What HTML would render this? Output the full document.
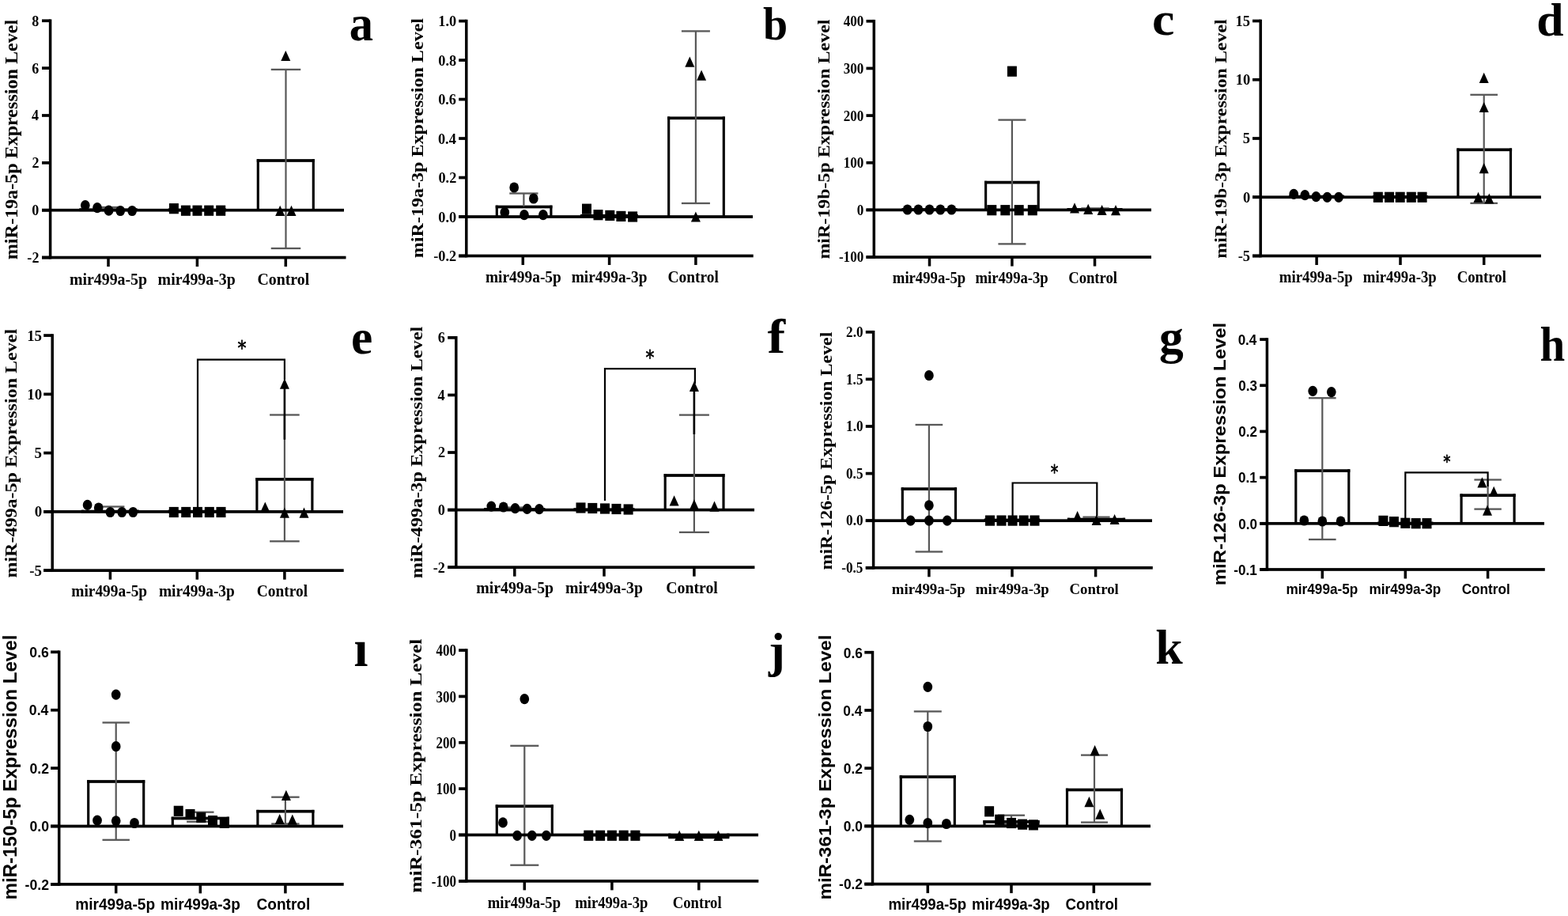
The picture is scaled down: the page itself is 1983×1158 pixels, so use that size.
<!DOCTYPE html>
<html><head><meta charset="utf-8"><title>miRNA expression levels</title>
<style>
html,body{margin:0;padding:0;background:#fff;}
body{width:1983px;height:1158px;overflow:hidden;}
svg{display:block;}
</style></head>
<body>
<svg width="1983" height="1158" viewBox="0 0 1983 1158">
<rect width="1983" height="1158" fill="#fff"/>
<g>
<rect x="102" y="265.3" width="70" height="0.4" fill="#fff"/>
<rect x="100.42" y="263.45" width="3.15" height="2.25" fill="#000"/>
<rect x="170.43" y="263.45" width="3.15" height="2.25" fill="#000"/>
<rect x="100.42" y="263.45" width="73.15" height="3.7" fill="#000"/>
<rect x="214.4" y="265.5" width="70" height="0.2" fill="#fff"/>
<rect x="212.83" y="263.65" width="3.15" height="2.05" fill="#000"/>
<rect x="282.82" y="263.65" width="3.15" height="2.05" fill="#000"/>
<rect x="212.83" y="263.65" width="73.15" height="3.7" fill="#000"/>
<rect x="326.3" y="203" width="70" height="62.7" fill="#fff"/>
<rect x="324.73" y="201.15" width="3.15" height="64.55" fill="#000"/>
<rect x="394.73" y="201.15" width="3.15" height="64.55" fill="#000"/>
<rect x="324.73" y="201.15" width="73.15" height="3.7" fill="#000"/>
<rect x="360.4" y="87.9" width="2.2" height="226.1" fill="#585858"/>
<rect x="342.75" y="86.75" width="37.5" height="2.3" fill="#585858"/>
<rect x="342.75" y="312.85" width="37.5" height="2.3" fill="#585858"/>
<rect x="135.9" y="262" width="2.2" height="2" fill="#585858"/>
<rect x="119" y="260.85" width="36" height="2.3" fill="#585858"/>
<rect x="53" y="263.85" width="382" height="3.7" fill="#000"/>
<rect x="61.85" y="24.41" width="3.5" height="303" fill="#000"/>
<rect x="53" y="24.41" width="10.6" height="3.7" fill="#000"/>
<text transform="translate(40.26 32.68) scale(0.95 1)" font-family='"Liberation Serif", "Times New Roman", serif' font-weight="700" font-size="19" text-anchor="start">8</text>
<rect x="53" y="84.27" width="10.6" height="3.7" fill="#000"/>
<text transform="translate(40.17 92.5) scale(0.95 1)" font-family='"Liberation Serif", "Times New Roman", serif' font-weight="700" font-size="19" text-anchor="start">6</text>
<rect x="53" y="144.13" width="10.6" height="3.7" fill="#000"/>
<text transform="translate(39.99 152.45) scale(0.95 1)" font-family='"Liberation Serif", "Times New Roman", serif' font-weight="700" font-size="19" text-anchor="start">4</text>
<rect x="53" y="203.99" width="10.6" height="3.7" fill="#000"/>
<text transform="translate(40.44 212.31) scale(0.95 1)" font-family='"Liberation Serif", "Times New Roman", serif' font-weight="700" font-size="19" text-anchor="start">2</text>
<rect x="53" y="263.85" width="10.6" height="3.7" fill="#000"/>
<text transform="translate(40.35 272.12) scale(0.95 1)" font-family='"Liberation Serif", "Times New Roman", serif' font-weight="700" font-size="19" text-anchor="start">0</text>
<rect x="53" y="323.71" width="10.6" height="3.7" fill="#000"/>
<text transform="translate(34.37 332.03) scale(0.95 1)" font-family='"Liberation Serif", "Times New Roman", serif' font-weight="700" font-size="19" text-anchor="start">-2</text>
<rect x="53" y="323.71" width="384.5" height="3.7" fill="#000"/>
<rect x="135.25" y="325.56" width="3.5" height="11.5" fill="#000"/>
<rect x="247.65" y="325.56" width="3.5" height="11.5" fill="#000"/>
<rect x="359.55" y="325.56" width="3.5" height="11.5" fill="#000"/>
<text transform="translate(137 359.6) scale(0.96 1)" font-family='"Liberation Serif", "Times New Roman", serif' font-weight="700" font-size="20.7" text-anchor="middle">mir499a-5p</text>
<text transform="translate(248.7 359.6) scale(0.96 1)" font-family='"Liberation Serif", "Times New Roman", serif' font-weight="700" font-size="20.7" text-anchor="middle">mir499a-3p</text>
<text transform="translate(358.3 359.6) scale(0.96 1)" font-family='"Liberation Serif", "Times New Roman", serif' font-weight="700" font-size="20.7" text-anchor="middle">Control</text>
<ellipse cx="107.8" cy="259.6" rx="5.85" ry="6.6"/>
<ellipse cx="123" cy="262.6" rx="5.85" ry="6.6"/>
<ellipse cx="137.5" cy="266.2" rx="5.85" ry="6.6"/>
<ellipse cx="152.2" cy="266.5" rx="5.85" ry="6.6"/>
<ellipse cx="167.1" cy="266.5" rx="5.85" ry="6.6"/>
<rect x="213.9" y="257.1" width="12" height="13.2"/>
<rect x="228.9" y="259.6" width="12" height="13.2"/>
<rect x="243.5" y="259.6" width="12" height="13.2"/>
<rect x="258.2" y="259.6" width="12" height="13.2"/>
<rect x="273.2" y="259.6" width="12" height="13.2"/>
<path d="M361.3 63.9L367.3 77.1L355.3 77.1Z"/>
<path d="M354.2 259.8L360.2 273L348.2 273Z"/>
<path d="M368.5 259.8L374.5 273L362.5 273Z"/>
<text transform="translate(22.1 328.2) rotate(-90) scale(1 0.92)" font-family='"Liberation Serif", "Times New Roman", serif' font-weight="700" font-size="24.1">miR-19a-5p Expression Level</text>
<text transform="translate(441.69 50.66) scale(0.95 1)" font-family='"Liberation Serif", "Times New Roman", serif' font-weight="700" font-size="63.75">a</text>
</g>
<g>
<rect x="628.3" y="261.5" width="68.6" height="12.5" fill="#fff"/>
<rect x="626.73" y="259.65" width="3.15" height="14.35" fill="#000"/>
<rect x="695.32" y="259.65" width="3.15" height="14.35" fill="#000"/>
<rect x="626.73" y="259.65" width="71.75" height="3.7" fill="#000"/>
<rect x="735.8" y="272.8" width="69.6" height="1.2" fill="#fff"/>
<rect x="734.23" y="270.95" width="3.15" height="3.05" fill="#000"/>
<rect x="803.82" y="270.95" width="3.15" height="3.05" fill="#000"/>
<rect x="734.23" y="270.95" width="72.75" height="3.7" fill="#000"/>
<rect x="845.7" y="149.3" width="69.6" height="124.7" fill="#fff"/>
<rect x="844.12" y="147.45" width="3.15" height="126.55" fill="#000"/>
<rect x="913.72" y="147.45" width="3.15" height="126.55" fill="#000"/>
<rect x="844.12" y="147.45" width="72.75" height="3.7" fill="#000"/>
<rect x="661.3" y="244.5" width="2.2" height="16.5" fill="#585858"/>
<rect x="644.3" y="243.35" width="36.2" height="2.3" fill="#585858"/>
<rect x="878.8" y="39.4" width="2.2" height="217.6" fill="#585858"/>
<rect x="861.9" y="38.25" width="36" height="2.3" fill="#585858"/>
<rect x="861.9" y="255.85" width="36" height="2.3" fill="#585858"/>
<rect x="580.2" y="272.15" width="371.8" height="3.7" fill="#000"/>
<rect x="588.05" y="24.75" width="3.5" height="300.58" fill="#000"/>
<rect x="580.2" y="24.75" width="9.6" height="3.7" fill="#000"/>
<text transform="translate(554.32 33.14) scale(0.94 1)" font-family='"Liberation Serif", "Times New Roman", serif' font-weight="700" font-size="19.5" text-anchor="start">1.0</text>
<rect x="580.2" y="74.23" width="9.6" height="3.7" fill="#000"/>
<text transform="translate(554.23 82.62) scale(0.94 1)" font-family='"Liberation Serif", "Times New Roman", serif' font-weight="700" font-size="19.5" text-anchor="start">0.8</text>
<rect x="580.2" y="123.71" width="9.6" height="3.7" fill="#000"/>
<text transform="translate(554.14 132.1) scale(0.94 1)" font-family='"Liberation Serif", "Times New Roman", serif' font-weight="700" font-size="19.5" text-anchor="start">0.6</text>
<rect x="580.2" y="173.19" width="9.6" height="3.7" fill="#000"/>
<text transform="translate(553.95 181.58) scale(0.94 1)" font-family='"Liberation Serif", "Times New Roman", serif' font-weight="700" font-size="19.5" text-anchor="start">0.4</text>
<rect x="580.2" y="222.67" width="9.6" height="3.7" fill="#000"/>
<text transform="translate(554.41 231.06) scale(0.94 1)" font-family='"Liberation Serif", "Times New Roman", serif' font-weight="700" font-size="19.5" text-anchor="start">0.2</text>
<rect x="580.2" y="272.15" width="9.6" height="3.7" fill="#000"/>
<text transform="translate(554.32 280.54) scale(0.94 1)" font-family='"Liberation Serif", "Times New Roman", serif' font-weight="700" font-size="19.5" text-anchor="start">0.0</text>
<rect x="580.2" y="321.63" width="9.6" height="3.7" fill="#000"/>
<text transform="translate(548.27 330.02) scale(0.94 1)" font-family='"Liberation Serif", "Times New Roman", serif' font-weight="700" font-size="19.5" text-anchor="start">-0.2</text>
<rect x="580.2" y="321.63" width="372.5" height="3.7" fill="#000"/>
<rect x="659.55" y="323.48" width="3.5" height="11.5" fill="#000"/>
<rect x="768.85" y="323.48" width="3.5" height="11.5" fill="#000"/>
<rect x="878.15" y="323.48" width="3.5" height="11.5" fill="#000"/>
<text transform="translate(661.9 356.8) scale(0.97 1)" font-family='"Liberation Serif", "Times New Roman", serif' font-weight="700" font-size="20" text-anchor="middle">mir499a-5p</text>
<text transform="translate(770.6 356.8) scale(0.97 1)" font-family='"Liberation Serif", "Times New Roman", serif' font-weight="700" font-size="20" text-anchor="middle">mir499a-3p</text>
<text transform="translate(876.7 356.8) scale(0.97 1)" font-family='"Liberation Serif", "Times New Roman", serif' font-weight="700" font-size="20" text-anchor="middle">Control</text>
<ellipse cx="650.2" cy="237" rx="5.85" ry="6.6"/>
<ellipse cx="674.8" cy="251" rx="5.85" ry="6.6"/>
<ellipse cx="638.3" cy="268.5" rx="5.85" ry="6.6"/>
<ellipse cx="663" cy="271.7" rx="5.85" ry="6.6"/>
<ellipse cx="686.9" cy="271.7" rx="5.85" ry="6.6"/>
<rect x="736" y="257.6" width="12" height="13.2"/>
<rect x="750.5" y="265.1" width="12" height="13.2"/>
<rect x="765.3" y="265.8" width="12" height="13.2"/>
<rect x="779.4" y="266.8" width="12" height="13.2"/>
<rect x="794.1" y="267.4" width="12" height="13.2"/>
<path d="M872.3 71.5L878.3 84.7L866.3 84.7Z"/>
<path d="M887.1 88.6L893.1 101.8L881.1 101.8Z"/>
<path d="M879.9 267.4L885.9 280.6L873.9 280.6Z"/>
<text transform="translate(535 326.3) rotate(-90) scale(1 0.87)" font-family='"Liberation Serif", "Times New Roman", serif' font-weight="700" font-size="24.1">miR-19a-3p Expression Level</text>
<text transform="translate(965.06 50.32) scale(0.96 1)" font-family='"Liberation Serif", "Times New Roman", serif' font-weight="700" font-size="58.3">b</text>
</g>
<g>
<rect x="1142.2" y="265" width="66.6" height="0.4" fill="#fff"/>
<rect x="1140.62" y="263.15" width="3.15" height="2.25" fill="#000"/>
<rect x="1207.22" y="263.15" width="3.15" height="2.25" fill="#000"/>
<rect x="1140.62" y="263.15" width="69.75" height="3.7" fill="#000"/>
<rect x="1246.6" y="230.6" width="66.6" height="34.8" fill="#fff"/>
<rect x="1245.03" y="228.75" width="3.15" height="36.65" fill="#000"/>
<rect x="1311.62" y="228.75" width="3.15" height="36.65" fill="#000"/>
<rect x="1245.03" y="228.75" width="69.75" height="3.7" fill="#000"/>
<rect x="1351.2" y="265" width="66.6" height="0.4" fill="#fff"/>
<rect x="1349.62" y="263.15" width="3.15" height="2.25" fill="#000"/>
<rect x="1416.22" y="263.15" width="3.15" height="2.25" fill="#000"/>
<rect x="1349.62" y="263.15" width="69.75" height="3.7" fill="#000"/>
<rect x="1278.8" y="151.6" width="2.2" height="156.8" fill="#585858"/>
<rect x="1262.4" y="150.45" width="35" height="2.3" fill="#585858"/>
<rect x="1262.4" y="307.25" width="35" height="2.3" fill="#585858"/>
<rect x="1383.9" y="263.4" width="2.2" height="1.6" fill="#585858"/>
<rect x="1367.3" y="262.25" width="35.4" height="2.3" fill="#585858"/>
<rect x="1095.5" y="263.55" width="360.5" height="3.7" fill="#000"/>
<rect x="1103.55" y="24.91" width="3.5" height="302" fill="#000"/>
<rect x="1095.5" y="24.91" width="9.8" height="3.7" fill="#000"/>
<text transform="translate(1066.63 33.18) scale(0.9 1)" font-family='"Liberation Serif", "Times New Roman", serif' font-weight="700" font-size="19" text-anchor="start">400</text>
<rect x="1095.5" y="84.57" width="9.8" height="3.7" fill="#000"/>
<text transform="translate(1066.63 92.84) scale(0.9 1)" font-family='"Liberation Serif", "Times New Roman", serif' font-weight="700" font-size="19" text-anchor="start">300</text>
<rect x="1095.5" y="144.23" width="9.8" height="3.7" fill="#000"/>
<text transform="translate(1066.63 152.5) scale(0.9 1)" font-family='"Liberation Serif", "Times New Roman", serif' font-weight="700" font-size="19" text-anchor="start">200</text>
<rect x="1095.5" y="203.89" width="9.8" height="3.7" fill="#000"/>
<text transform="translate(1066.63 212.16) scale(0.9 1)" font-family='"Liberation Serif", "Times New Roman", serif' font-weight="700" font-size="19" text-anchor="start">100</text>
<rect x="1095.5" y="263.55" width="9.8" height="3.7" fill="#000"/>
<text transform="translate(1083.73 271.82) scale(0.9 1)" font-family='"Liberation Serif", "Times New Roman", serif' font-weight="700" font-size="19" text-anchor="start">0</text>
<rect x="1095.5" y="323.21" width="9.8" height="3.7" fill="#000"/>
<text transform="translate(1060.91 331.48) scale(0.9 1)" font-family='"Liberation Serif", "Times New Roman", serif' font-weight="700" font-size="19" text-anchor="start">-100</text>
<rect x="1095.5" y="323.21" width="360.5" height="3.7" fill="#000"/>
<rect x="1173.75" y="325.06" width="3.5" height="11.5" fill="#000"/>
<rect x="1278.15" y="325.06" width="3.5" height="11.5" fill="#000"/>
<rect x="1382.75" y="325.06" width="3.5" height="11.5" fill="#000"/>
<text transform="translate(1175 358) scale(0.93 1)" font-family='"Liberation Serif", "Times New Roman", serif' font-weight="700" font-size="20.1" text-anchor="middle">mir499a-5p</text>
<text transform="translate(1279.6 358) scale(0.93 1)" font-family='"Liberation Serif", "Times New Roman", serif' font-weight="700" font-size="20.1" text-anchor="middle">mir499a-3p</text>
<text transform="translate(1382.1 358) scale(0.93 1)" font-family='"Liberation Serif", "Times New Roman", serif' font-weight="700" font-size="20.1" text-anchor="middle">Control</text>
<ellipse cx="1147.6" cy="265" rx="5.85" ry="6.6"/>
<ellipse cx="1161.4" cy="265" rx="5.85" ry="6.6"/>
<ellipse cx="1175.5" cy="265" rx="5.85" ry="6.6"/>
<ellipse cx="1189.3" cy="265" rx="5.85" ry="6.6"/>
<ellipse cx="1203.4" cy="265" rx="5.85" ry="6.6"/>
<rect x="1273.9" y="83.6" width="12" height="13.2"/>
<rect x="1248.3" y="259.1" width="12" height="13.2"/>
<rect x="1265.3" y="259.1" width="12" height="13.2"/>
<rect x="1282.7" y="259.1" width="12" height="13.2"/>
<rect x="1299.8" y="259.1" width="12" height="13.2"/>
<path d="M1359 256.2L1365 269.4L1353 269.4Z"/>
<path d="M1376.2 257.7L1382.2 270.9L1370.2 270.9Z"/>
<path d="M1393.6 258.9L1399.6 272.1L1387.6 272.1Z"/>
<path d="M1411 259.1L1417 272.3L1405 272.3Z"/>
<text transform="translate(1048.9 327.6) rotate(-90) scale(1 0.86)" font-family='"Liberation Serif", "Times New Roman", serif' font-weight="700" font-size="23.97">miR-19b-5p Expression Level</text>
<text transform="translate(1457.05 43.72) scale(1.1 1)" font-family='"Liberation Serif", "Times New Roman", serif' font-weight="700" font-size="58.12">c</text>
</g>
<g>
<rect x="1631.8" y="248.6" width="66.6" height="0.65" fill="#fff"/>
<rect x="1630.22" y="246.75" width="3.15" height="2.5" fill="#000"/>
<rect x="1696.82" y="246.75" width="3.15" height="2.5" fill="#000"/>
<rect x="1630.22" y="246.75" width="69.75" height="3.7" fill="#000"/>
<rect x="1737.7" y="248.9" width="66.6" height="0.35" fill="#fff"/>
<rect x="1736.12" y="247.05" width="3.15" height="2.2" fill="#000"/>
<rect x="1802.72" y="247.05" width="3.15" height="2.2" fill="#000"/>
<rect x="1736.12" y="247.05" width="69.75" height="3.7" fill="#000"/>
<rect x="1843.9" y="189.3" width="66.6" height="59.95" fill="#fff"/>
<rect x="1842.33" y="187.45" width="3.15" height="61.8" fill="#000"/>
<rect x="1908.92" y="187.45" width="3.15" height="61.8" fill="#000"/>
<rect x="1842.33" y="187.45" width="69.75" height="3.7" fill="#000"/>
<rect x="1875.6" y="119.8" width="2.2" height="137.1" fill="#585858"/>
<rect x="1859.4" y="118.65" width="34.6" height="2.3" fill="#585858"/>
<rect x="1859.4" y="255.75" width="34.6" height="2.3" fill="#585858"/>
<rect x="1584" y="247.4" width="364.9" height="3.7" fill="#000"/>
<rect x="1592.45" y="24.65" width="3.5" height="300.7" fill="#000"/>
<rect x="1584" y="24.65" width="10.2" height="3.7" fill="#000"/>
<text transform="translate(1562.62 33) scale(0.95 1)" font-family='"Liberation Serif", "Times New Roman", serif' font-weight="700" font-size="19.4" text-anchor="start">15</text>
<rect x="1584" y="98.9" width="10.2" height="3.7" fill="#000"/>
<text transform="translate(1562.71 107.3) scale(0.95 1)" font-family='"Liberation Serif", "Times New Roman", serif' font-weight="700" font-size="19.4" text-anchor="start">10</text>
<rect x="1584" y="173.15" width="10.2" height="3.7" fill="#000"/>
<text transform="translate(1571.83 181.46) scale(0.95 1)" font-family='"Liberation Serif", "Times New Roman", serif' font-weight="700" font-size="19.4" text-anchor="start">5</text>
<rect x="1584" y="247.4" width="10.2" height="3.7" fill="#000"/>
<text transform="translate(1571.92 255.8) scale(0.95 1)" font-family='"Liberation Serif", "Times New Roman", serif' font-weight="700" font-size="19.4" text-anchor="start">0</text>
<rect x="1584" y="321.65" width="10.2" height="3.7" fill="#000"/>
<text transform="translate(1565.66 329.96) scale(0.95 1)" font-family='"Liberation Serif", "Times New Roman", serif' font-weight="700" font-size="19.4" text-anchor="start">-5</text>
<rect x="1584" y="321.65" width="364.9" height="3.7" fill="#000"/>
<rect x="1663.35" y="323.5" width="3.5" height="11.5" fill="#000"/>
<rect x="1769.25" y="323.5" width="3.5" height="11.5" fill="#000"/>
<rect x="1874.95" y="323.5" width="3.5" height="11.5" fill="#000"/>
<text transform="translate(1664.3 356.6) scale(0.94 1)" font-family='"Liberation Serif", "Times New Roman", serif' font-weight="700" font-size="20" text-anchor="middle">mir499a-5p</text>
<text transform="translate(1770.3 356.6) scale(0.94 1)" font-family='"Liberation Serif", "Times New Roman", serif' font-weight="700" font-size="20" text-anchor="middle">mir499a-3p</text>
<text transform="translate(1873.8 356.6) scale(0.94 1)" font-family='"Liberation Serif", "Times New Roman", serif' font-weight="700" font-size="20" text-anchor="middle">Control</text>
<ellipse cx="1636.2" cy="245.4" rx="5.85" ry="6.6"/>
<ellipse cx="1650.3" cy="246.7" rx="5.85" ry="6.6"/>
<ellipse cx="1664.4" cy="248.7" rx="5.85" ry="6.6"/>
<ellipse cx="1678.5" cy="249.3" rx="5.85" ry="6.6"/>
<ellipse cx="1693" cy="249.3" rx="5.85" ry="6.6"/>
<rect x="1736.8" y="242.7" width="12" height="13.2"/>
<rect x="1751" y="242.7" width="12" height="13.2"/>
<rect x="1764.7" y="242.7" width="12" height="13.2"/>
<rect x="1778.8" y="242.7" width="12" height="13.2"/>
<rect x="1792.6" y="242.7" width="12" height="13.2"/>
<path d="M1876.7 91.8L1882.7 105L1870.7 105Z"/>
<path d="M1876.7 128.9L1882.7 142.1L1870.7 142.1Z"/>
<path d="M1876.7 206L1882.7 219.2L1870.7 219.2Z"/>
<path d="M1869.5 242.7L1875.5 255.9L1863.5 255.9Z"/>
<path d="M1883.3 244.4L1889.3 257.6L1877.3 257.6Z"/>
<text transform="translate(1551.3 326.7) rotate(-90) scale(1 0.89)" font-family='"Liberation Serif", "Times New Roman", serif' font-weight="700" font-size="23.91">miR-19b-3p Expression Level</text>
<text transform="translate(1943.13 45.32) scale(1.06 1)" font-family='"Liberation Serif", "Times New Roman", serif' font-weight="700" font-size="58.16">d</text>
</g>
<g>
<rect x="104.4" y="646.6" width="70" height="0.3" fill="#fff"/>
<rect x="102.83" y="644.75" width="3.15" height="2.15" fill="#000"/>
<rect x="172.83" y="644.75" width="3.15" height="2.15" fill="#000"/>
<rect x="102.83" y="644.75" width="73.15" height="3.7" fill="#000"/>
<rect x="214.3" y="646.6" width="70" height="0.3" fill="#fff"/>
<rect x="212.73" y="644.75" width="3.15" height="2.15" fill="#000"/>
<rect x="282.73" y="644.75" width="3.15" height="2.15" fill="#000"/>
<rect x="212.73" y="644.75" width="73.15" height="3.7" fill="#000"/>
<rect x="324.9" y="605.9" width="70" height="41" fill="#fff"/>
<rect x="323.32" y="604.05" width="3.15" height="42.85" fill="#000"/>
<rect x="393.32" y="604.05" width="3.15" height="42.85" fill="#000"/>
<rect x="323.32" y="604.05" width="73.15" height="3.7" fill="#000"/>
<rect x="358.8" y="524.5" width="2.2" height="159.8" fill="#585858"/>
<rect x="341.1" y="523.35" width="37.6" height="2.3" fill="#585858"/>
<rect x="341.1" y="683.15" width="37.6" height="2.3" fill="#585858"/>
<rect x="138.3" y="640.5" width="2.2" height="4.5" fill="#585858"/>
<rect x="121.4" y="639.35" width="36" height="2.3" fill="#585858"/>
<rect x="358.6" y="485" width="2.6" height="70.7" fill="#000"/>
<rect x="55.2" y="645.05" width="378.8" height="3.7" fill="#000"/>
<rect x="64.45" y="422.22" width="3.5" height="300.8" fill="#000"/>
<rect x="55.2" y="422.22" width="11" height="3.7" fill="#000"/>
<text transform="translate(34.15 430.55) scale(0.98 1)" font-family='"Liberation Serif", "Times New Roman", serif' font-weight="700" font-size="19.3" text-anchor="start">15</text>
<rect x="55.2" y="496.5" width="11" height="3.7" fill="#000"/>
<text transform="translate(34.24 504.87) scale(0.98 1)" font-family='"Liberation Serif", "Times New Roman", serif' font-weight="700" font-size="19.3" text-anchor="start">10</text>
<rect x="55.2" y="570.77" width="11" height="3.7" fill="#000"/>
<text transform="translate(43.6 579.05) scale(0.98 1)" font-family='"Liberation Serif", "Times New Roman", serif' font-weight="700" font-size="19.3" text-anchor="start">5</text>
<rect x="55.2" y="645.05" width="11" height="3.7" fill="#000"/>
<text transform="translate(43.7 653.42) scale(0.98 1)" font-family='"Liberation Serif", "Times New Roman", serif' font-weight="700" font-size="19.3" text-anchor="start">0</text>
<rect x="55.2" y="719.32" width="11" height="3.7" fill="#000"/>
<text transform="translate(37.27 727.6) scale(0.98 1)" font-family='"Liberation Serif", "Times New Roman", serif' font-weight="700" font-size="19.3" text-anchor="start">-5</text>
<rect x="55.2" y="719.32" width="379.5" height="3.7" fill="#000"/>
<rect x="137.65" y="721.17" width="3.5" height="11.5" fill="#000"/>
<rect x="247.55" y="721.17" width="3.5" height="11.5" fill="#000"/>
<rect x="358.15" y="721.17" width="3.5" height="11.5" fill="#000"/>
<text transform="translate(138.2 754.3) scale(0.97 1)" font-family='"Liberation Serif", "Times New Roman", serif' font-weight="700" font-size="20" text-anchor="middle">mir499a-5p</text>
<text transform="translate(248.9 754.3) scale(0.97 1)" font-family='"Liberation Serif", "Times New Roman", serif' font-weight="700" font-size="20" text-anchor="middle">mir499a-3p</text>
<text transform="translate(356.9 754.3) scale(0.97 1)" font-family='"Liberation Serif", "Times New Roman", serif' font-weight="700" font-size="20" text-anchor="middle">Control</text>
<path d="M250 643V454.6H359.9V480" fill="none" stroke="#000" stroke-width="2.2"/>
<text transform="translate(300.45 448.46) scale(0.87 1)" font-family='"DejaVu Sans", sans-serif' font-weight="400" font-size="25.22" stroke="#000" stroke-width="0.75" stroke-linejoin="round" stroke-linecap="round">*</text>
<ellipse cx="110.6" cy="638.4" rx="5.85" ry="6.6"/>
<ellipse cx="124.7" cy="642" rx="5.85" ry="6.6"/>
<ellipse cx="139.4" cy="647.5" rx="5.85" ry="6.6"/>
<ellipse cx="154.2" cy="647.5" rx="5.85" ry="6.6"/>
<ellipse cx="168.3" cy="647.5" rx="5.85" ry="6.6"/>
<rect x="213.8" y="640.9" width="12" height="13.2"/>
<rect x="229.2" y="640.9" width="12" height="13.2"/>
<rect x="244" y="640.9" width="12" height="13.2"/>
<rect x="258.8" y="640.9" width="12" height="13.2"/>
<rect x="273.5" y="640.9" width="12" height="13.2"/>
<path d="M359.9 478.5L365.9 491.7L353.9 491.7Z"/>
<path d="M335.3 634.4L341.3 647.6L329.3 647.6Z"/>
<path d="M359.9 641.6L365.9 654.8L353.9 654.8Z"/>
<path d="M384.5 641.6L390.5 654.8L378.5 654.8Z"/>
<text transform="translate(21.4 730.6) rotate(-90) scale(1 0.88)" font-family='"Liberation Serif", "Times New Roman", serif' font-weight="700" font-size="24.05">miR-499a-5p Expression Level</text>
<text transform="translate(444.05 446.79) scale(1 1)" font-family='"Liberation Serif", "Times New Roman", serif' font-weight="700" font-size="61.46">e</text>
</g>
<g>
<rect x="613.9" y="644" width="73.8" height="0.6" fill="#fff"/>
<rect x="612.32" y="642.15" width="3.15" height="2.45" fill="#000"/>
<rect x="686.12" y="642.15" width="3.15" height="2.45" fill="#000"/>
<rect x="612.32" y="642.15" width="76.95" height="3.7" fill="#000"/>
<rect x="727.1" y="644.3" width="73.8" height="0.3" fill="#fff"/>
<rect x="725.52" y="642.45" width="3.15" height="2.15" fill="#000"/>
<rect x="799.32" y="642.45" width="3.15" height="2.15" fill="#000"/>
<rect x="725.52" y="642.45" width="76.95" height="3.7" fill="#000"/>
<rect x="841.2" y="601" width="73.8" height="43.6" fill="#fff"/>
<rect x="839.62" y="599.15" width="3.15" height="45.45" fill="#000"/>
<rect x="913.42" y="599.15" width="3.15" height="45.45" fill="#000"/>
<rect x="839.62" y="599.15" width="76.95" height="3.7" fill="#000"/>
<rect x="876.8" y="524.6" width="2.2" height="148.3" fill="#585858"/>
<rect x="858.9" y="523.45" width="38" height="2.3" fill="#585858"/>
<rect x="858.9" y="671.75" width="38" height="2.3" fill="#585858"/>
<rect x="649.7" y="641.6" width="2.2" height="2.4" fill="#585858"/>
<rect x="632.8" y="640.45" width="36" height="2.3" fill="#585858"/>
<rect x="876.6" y="488" width="2.6" height="61" fill="#000"/>
<rect x="566.2" y="642.75" width="387.8" height="3.7" fill="#000"/>
<rect x="575.05" y="425.01" width="3.5" height="294.02" fill="#000"/>
<rect x="566.2" y="425.01" width="10.6" height="3.7" fill="#000"/>
<text transform="translate(553.63 433.17) scale(0.97 1)" font-family='"Liberation Serif", "Times New Roman", serif' font-weight="700" font-size="18.8" text-anchor="start">6</text>
<rect x="566.2" y="497.59" width="10.6" height="3.7" fill="#000"/>
<text transform="translate(553.45 505.84) scale(0.97 1)" font-family='"Liberation Serif", "Times New Roman", serif' font-weight="700" font-size="18.8" text-anchor="start">4</text>
<rect x="566.2" y="570.17" width="10.6" height="3.7" fill="#000"/>
<text transform="translate(553.9 578.42) scale(0.97 1)" font-family='"Liberation Serif", "Times New Roman", serif' font-weight="700" font-size="18.8" text-anchor="start">2</text>
<rect x="566.2" y="642.75" width="10.6" height="3.7" fill="#000"/>
<text transform="translate(553.81 650.96) scale(0.97 1)" font-family='"Liberation Serif", "Times New Roman", serif' font-weight="700" font-size="18.8" text-anchor="start">0</text>
<rect x="566.2" y="715.33" width="10.6" height="3.7" fill="#000"/>
<text transform="translate(547.79 723.58) scale(0.97 1)" font-family='"Liberation Serif", "Times New Roman", serif' font-weight="700" font-size="18.8" text-anchor="start">-2</text>
<rect x="566.2" y="715.33" width="388.2" height="3.7" fill="#000"/>
<rect x="649.05" y="717.18" width="3.5" height="11.5" fill="#000"/>
<rect x="762.25" y="717.18" width="3.5" height="11.5" fill="#000"/>
<rect x="876.15" y="717.18" width="3.5" height="11.5" fill="#000"/>
<text transform="translate(651.2 750.3) scale(0.99 1)" font-family='"Liberation Serif", "Times New Roman", serif' font-weight="700" font-size="20" text-anchor="middle">mir499a-5p</text>
<text transform="translate(764 750.3) scale(0.99 1)" font-family='"Liberation Serif", "Times New Roman", serif' font-weight="700" font-size="20" text-anchor="middle">mir499a-3p</text>
<text transform="translate(875 750.3) scale(0.99 1)" font-family='"Liberation Serif", "Times New Roman", serif' font-weight="700" font-size="20" text-anchor="middle">Control</text>
<path d="M765 632.9V466.1H878.9V485.2" fill="none" stroke="#000" stroke-width="2.2"/>
<text transform="translate(816.45 459.92) scale(0.86 1)" font-family='"DejaVu Sans", sans-serif' font-weight="400" font-size="25.43" stroke="#000" stroke-width="0.75" stroke-linejoin="round" stroke-linecap="round">*</text>
<ellipse cx="621.3" cy="640.1" rx="5.85" ry="6.6"/>
<ellipse cx="636.7" cy="641" rx="5.85" ry="6.6"/>
<ellipse cx="651.5" cy="642.7" rx="5.85" ry="6.6"/>
<ellipse cx="666.6" cy="643.4" rx="5.85" ry="6.6"/>
<ellipse cx="682" cy="643.7" rx="5.85" ry="6.6"/>
<rect x="728.5" y="635.4" width="12" height="13.2"/>
<rect x="743.3" y="635.9" width="12" height="13.2"/>
<rect x="759" y="636.4" width="12" height="13.2"/>
<rect x="773.5" y="636.9" width="12" height="13.2"/>
<rect x="788.6" y="637.4" width="12" height="13.2"/>
<path d="M877.9 481.9L883.9 495.1L871.9 495.1Z"/>
<path d="M852.6 626.3L858.6 639.5L846.6 639.5Z"/>
<path d="M877.9 631.2L883.9 644.4L871.9 644.4Z"/>
<path d="M903.5 633.5L909.5 646.7L897.5 646.7Z"/>
<text transform="translate(534.3 731.21) rotate(-90) scale(1 0.87)" font-family='"Liberation Serif", "Times New Roman", serif' font-weight="700" font-size="24.33">miR-499a-3p Expression Level</text>
<text transform="translate(970.46 445.8) scale(1.12 1)" font-family='"Liberation Serif", "Times New Roman", serif' font-weight="700" font-size="60.57">f</text>
</g>
<g>
<rect x="1141.3" y="618.1" width="67.2" height="40.1" fill="#fff"/>
<rect x="1139.73" y="616.25" width="3.15" height="41.95" fill="#000"/>
<rect x="1206.92" y="616.25" width="3.15" height="41.95" fill="#000"/>
<rect x="1139.73" y="616.25" width="70.35" height="3.7" fill="#000"/>
<rect x="1246.4" y="657.5" width="67.2" height="0.7" fill="#fff"/>
<rect x="1244.83" y="655.65" width="3.15" height="2.55" fill="#000"/>
<rect x="1312.02" y="655.65" width="3.15" height="2.55" fill="#000"/>
<rect x="1244.83" y="655.65" width="70.35" height="3.7" fill="#000"/>
<rect x="1351.5" y="656.6" width="70" height="1.6" fill="#fff"/>
<rect x="1349.92" y="654.75" width="3.15" height="3.45" fill="#000"/>
<rect x="1419.92" y="654.75" width="3.15" height="3.45" fill="#000"/>
<rect x="1349.92" y="654.75" width="73.15" height="3.7" fill="#000"/>
<rect x="1173.8" y="537" width="2.2" height="160.5" fill="#585858"/>
<rect x="1157.6" y="535.85" width="34.6" height="2.3" fill="#585858"/>
<rect x="1157.6" y="696.35" width="34.6" height="2.3" fill="#585858"/>
<rect x="1385.4" y="653.7" width="2.2" height="2.3" fill="#585858"/>
<rect x="1369.4" y="652.55" width="34.2" height="2.3" fill="#585858"/>
<rect x="1094.8" y="656.35" width="362.2" height="3.7" fill="#000"/>
<rect x="1102.85" y="417.95" width="3.5" height="301.7" fill="#000"/>
<rect x="1094.8" y="417.95" width="9.8" height="3.7" fill="#000"/>
<text transform="translate(1070.08 426.08) scale(0.92 1)" font-family='"Liberation Serif", "Times New Roman", serif' font-weight="700" font-size="18.7" text-anchor="start">2.0</text>
<rect x="1094.8" y="477.55" width="9.8" height="3.7" fill="#000"/>
<text transform="translate(1070 485.63) scale(0.92 1)" font-family='"Liberation Serif", "Times New Roman", serif' font-weight="700" font-size="18.7" text-anchor="start">1.5</text>
<rect x="1094.8" y="537.15" width="9.8" height="3.7" fill="#000"/>
<text transform="translate(1070.08 545.28) scale(0.92 1)" font-family='"Liberation Serif", "Times New Roman", serif' font-weight="700" font-size="18.7" text-anchor="start">1.0</text>
<rect x="1094.8" y="596.75" width="9.8" height="3.7" fill="#000"/>
<text transform="translate(1070 604.88) scale(0.92 1)" font-family='"Liberation Serif", "Times New Roman", serif' font-weight="700" font-size="18.7" text-anchor="start">0.5</text>
<rect x="1094.8" y="656.35" width="9.8" height="3.7" fill="#000"/>
<text transform="translate(1070.08 664.48) scale(0.92 1)" font-family='"Liberation Serif", "Times New Roman", serif' font-weight="700" font-size="18.7" text-anchor="start">0.0</text>
<rect x="1094.8" y="715.95" width="9.8" height="3.7" fill="#000"/>
<text transform="translate(1064.23 724.08) scale(0.92 1)" font-family='"Liberation Serif", "Times New Roman", serif' font-weight="700" font-size="18.7" text-anchor="start">-0.5</text>
<rect x="1094.8" y="715.95" width="363" height="3.7" fill="#000"/>
<rect x="1173.15" y="717.8" width="3.5" height="11.5" fill="#000"/>
<rect x="1278.25" y="717.8" width="3.5" height="11.5" fill="#000"/>
<rect x="1383.85" y="717.8" width="3.5" height="11.5" fill="#000"/>
<text transform="translate(1174.3 750.5) scale(0.96 1)" font-family='"Liberation Serif", "Times New Roman", serif' font-weight="700" font-size="19.6" text-anchor="middle">mir499a-5p</text>
<text transform="translate(1280.3 750.5) scale(0.96 1)" font-family='"Liberation Serif", "Times New Roman", serif' font-weight="700" font-size="19.6" text-anchor="middle">mir499a-3p</text>
<text transform="translate(1383.6 750.5) scale(0.96 1)" font-family='"Liberation Serif", "Times New Roman", serif' font-weight="700" font-size="19.6" text-anchor="middle">Control</text>
<path d="M1280.6 652.6V610.5H1387.3V652.6" fill="none" stroke="#000" stroke-width="2.2"/>
<text transform="translate(1328.63 604.56) scale(0.76 1)" font-family='"DejaVu Sans", sans-serif' font-weight="400" font-size="25.22" stroke="#000" stroke-width="0.75" stroke-linejoin="round" stroke-linecap="round">*</text>
<ellipse cx="1174.9" cy="474.7" rx="5.85" ry="6.6"/>
<ellipse cx="1174.9" cy="638.8" rx="5.85" ry="6.6"/>
<ellipse cx="1151.6" cy="658.1" rx="5.85" ry="6.6"/>
<ellipse cx="1174.9" cy="658.1" rx="5.85" ry="6.6"/>
<ellipse cx="1197.9" cy="658.1" rx="5.85" ry="6.6"/>
<rect x="1246" y="651.5" width="12" height="13.2"/>
<rect x="1260.5" y="651.5" width="12" height="13.2"/>
<rect x="1274.6" y="651.5" width="12" height="13.2"/>
<rect x="1288.7" y="651.5" width="12" height="13.2"/>
<rect x="1302.5" y="651.5" width="12" height="13.2"/>
<path d="M1362.6 646L1368.6 659.2L1356.6 659.2Z"/>
<path d="M1386.6 650.9L1392.6 664.1L1380.6 664.1Z"/>
<path d="M1409.6 649.9L1415.6 663.1L1403.6 663.1Z"/>
<text transform="translate(1051.8 720.5) rotate(-90) scale(1 0.87)" font-family='"Liberation Serif", "Times New Roman", serif' font-weight="700" font-size="23.9">miR-126-5p Expression Level</text>
<text transform="translate(1465.96 446.59) scale(1.01 1)" font-family='"Liberation Serif", "Times New Roman", serif' font-weight="700" font-size="60.96">g</text>
</g>
<g>
<rect x="1638.8" y="595.1" width="67" height="66.7" fill="#fff"/>
<rect x="1637.22" y="593.25" width="3.15" height="68.55" fill="#000"/>
<rect x="1704.22" y="593.25" width="3.15" height="68.55" fill="#000"/>
<rect x="1637.22" y="593.25" width="70.15" height="3.7" fill="#000"/>
<rect x="1743.8" y="661.6" width="67" height="0.2" fill="#fff"/>
<rect x="1742.22" y="659.75" width="3.15" height="2.05" fill="#000"/>
<rect x="1809.22" y="659.75" width="3.15" height="2.05" fill="#000"/>
<rect x="1742.22" y="659.75" width="70.15" height="3.7" fill="#000"/>
<rect x="1848.1" y="626.2" width="67" height="35.6" fill="#fff"/>
<rect x="1846.52" y="624.35" width="3.15" height="37.45" fill="#000"/>
<rect x="1913.52" y="624.35" width="3.15" height="37.45" fill="#000"/>
<rect x="1846.52" y="624.35" width="70.15" height="3.7" fill="#000"/>
<rect x="1671.2" y="503.2" width="2.2" height="178.8" fill="#585858"/>
<rect x="1655" y="502.05" width="34.6" height="2.3" fill="#585858"/>
<rect x="1655" y="680.85" width="34.6" height="2.3" fill="#585858"/>
<rect x="1880.5" y="606.5" width="2.2" height="37.1" fill="#585858"/>
<rect x="1864.4" y="605.35" width="34.4" height="2.3" fill="#585858"/>
<rect x="1864.4" y="642.45" width="34.4" height="2.3" fill="#585858"/>
<rect x="1593.2" y="659.95" width="359.8" height="3.7" fill="#000"/>
<rect x="1600.65" y="427.23" width="3.5" height="294.6" fill="#000"/>
<rect x="1593.2" y="427.23" width="9.2" height="3.7" fill="#000"/>
<text transform="translate(1565.63 435.9) scale(0.89 1)" font-family='"Liberation Sans", Arial, sans-serif' font-weight="700" font-size="19.2" text-anchor="start">0.4</text>
<rect x="1593.2" y="485.41" width="9.2" height="3.7" fill="#000"/>
<text transform="translate(1566.15 494.08) scale(0.89 1)" font-family='"Liberation Sans", Arial, sans-serif' font-weight="700" font-size="19.2" text-anchor="start">0.3</text>
<rect x="1593.2" y="543.59" width="9.2" height="3.7" fill="#000"/>
<text transform="translate(1566.23 552.26) scale(0.89 1)" font-family='"Liberation Sans", Arial, sans-serif' font-weight="700" font-size="19.2" text-anchor="start">0.2</text>
<rect x="1593.2" y="601.77" width="9.2" height="3.7" fill="#000"/>
<text transform="translate(1565.97 610.44) scale(0.89 1)" font-family='"Liberation Sans", Arial, sans-serif' font-weight="700" font-size="19.2" text-anchor="start">0.1</text>
<rect x="1593.2" y="659.95" width="9.2" height="3.7" fill="#000"/>
<text transform="translate(1566.23 668.62) scale(0.89 1)" font-family='"Liberation Sans", Arial, sans-serif' font-weight="700" font-size="19.2" text-anchor="start">0.0</text>
<rect x="1593.2" y="718.13" width="9.2" height="3.7" fill="#000"/>
<text transform="translate(1560.34 726.8) scale(0.89 1)" font-family='"Liberation Sans", Arial, sans-serif' font-weight="700" font-size="19.2" text-anchor="start">-0.1</text>
<rect x="1593.2" y="718.13" width="360.6" height="3.7" fill="#000"/>
<rect x="1670.55" y="719.98" width="3.5" height="11.5" fill="#000"/>
<rect x="1775.55" y="719.98" width="3.5" height="11.5" fill="#000"/>
<rect x="1879.85" y="719.98" width="3.5" height="11.5" fill="#000"/>
<text transform="translate(1671.9 750.8) scale(0.95 1)" font-family='"Liberation Sans", Arial, sans-serif' font-weight="700" font-size="18.1" text-anchor="middle">mir499a-5p</text>
<text transform="translate(1776.9 750.8) scale(0.95 1)" font-family='"Liberation Sans", Arial, sans-serif' font-weight="700" font-size="18.1" text-anchor="middle">mir499a-3p</text>
<text transform="translate(1879.2 750.8) scale(0.95 1)" font-family='"Liberation Sans", Arial, sans-serif' font-weight="700" font-size="18.1" text-anchor="middle">Control</text>
<path d="M1777.3 655V597.3H1881.6V615" fill="none" stroke="#000" stroke-width="2.2"/>
<text transform="translate(1825.35 590.8) scale(0.87 1)" font-family='"DejaVu Sans", sans-serif' font-weight="400" font-size="21.09" stroke="#000" stroke-width="0.75" stroke-linejoin="round" stroke-linecap="round">*</text>
<ellipse cx="1660.2" cy="494.3" rx="5.85" ry="6.6"/>
<ellipse cx="1683.8" cy="495.6" rx="5.85" ry="6.6"/>
<ellipse cx="1649.3" cy="658" rx="5.85" ry="6.6"/>
<ellipse cx="1672.3" cy="659" rx="5.85" ry="6.6"/>
<ellipse cx="1695.6" cy="659" rx="5.85" ry="6.6"/>
<rect x="1743.4" y="651.8" width="12" height="13.2"/>
<rect x="1756.9" y="653.1" width="12" height="13.2"/>
<rect x="1771.3" y="654.7" width="12" height="13.2"/>
<rect x="1784.7" y="655.1" width="12" height="13.2"/>
<rect x="1798.5" y="655.1" width="12" height="13.2"/>
<path d="M1874.4 603.2L1880.4 616.4L1868.4 616.4Z"/>
<path d="M1889.2 614.7L1895.2 627.9L1883.2 627.9Z"/>
<path d="M1881 638.6L1887 651.8L1875 651.8Z"/>
<text transform="translate(1550 740.26) rotate(-90) scale(1 0.9)" font-family='"Liberation Sans", Arial, sans-serif' font-weight="700" font-size="23.95">miR-126-3p Expression Level</text>
<text transform="translate(1947.47 455.6) scale(0.93 1)" font-family='"Liberation Serif", "Times New Roman", serif' font-weight="700" font-size="61.29">h</text>
</g>
<g>
<rect x="111.7" y="988" width="70" height="56.5" fill="#fff"/>
<rect x="110.12" y="986.15" width="3.15" height="58.35" fill="#000"/>
<rect x="180.12" y="986.15" width="3.15" height="58.35" fill="#000"/>
<rect x="110.12" y="986.15" width="73.15" height="3.7" fill="#000"/>
<rect x="218.3" y="1034.5" width="70" height="10" fill="#fff"/>
<rect x="216.73" y="1032.65" width="3.15" height="11.85" fill="#000"/>
<rect x="286.73" y="1032.65" width="3.15" height="11.85" fill="#000"/>
<rect x="216.73" y="1032.65" width="73.15" height="3.7" fill="#000"/>
<rect x="325.9" y="1025.7" width="70" height="18.8" fill="#fff"/>
<rect x="324.32" y="1023.85" width="3.15" height="20.65" fill="#000"/>
<rect x="394.32" y="1023.85" width="3.15" height="20.65" fill="#000"/>
<rect x="324.32" y="1023.85" width="73.15" height="3.7" fill="#000"/>
<rect x="145.6" y="913.5" width="2.2" height="148.3" fill="#585858"/>
<rect x="129.5" y="912.35" width="34.4" height="2.3" fill="#585858"/>
<rect x="129.5" y="1060.65" width="34.4" height="2.3" fill="#585858"/>
<rect x="252.2" y="1026.7" width="2.2" height="12.1" fill="#585858"/>
<rect x="236.1" y="1025.55" width="34.4" height="2.3" fill="#585858"/>
<rect x="236.1" y="1037.65" width="34.4" height="2.3" fill="#585858"/>
<rect x="359.8" y="1007.7" width="2.2" height="33.8" fill="#585858"/>
<rect x="343.2" y="1006.55" width="35.4" height="2.3" fill="#585858"/>
<rect x="343.2" y="1040.35" width="35.4" height="2.3" fill="#585858"/>
<rect x="64.1" y="1042.65" width="369.9" height="3.7" fill="#000"/>
<rect x="72.95" y="822.45" width="3.5" height="297.3" fill="#000"/>
<rect x="64.1" y="822.45" width="10.6" height="3.7" fill="#000"/>
<text transform="translate(37.36 830.92) scale(0.95 1)" font-family='"Liberation Sans", Arial, sans-serif' font-weight="700" font-size="18.6" text-anchor="start">0.6</text>
<rect x="64.1" y="895.85" width="10.6" height="3.7" fill="#000"/>
<text transform="translate(36.83 904.32) scale(0.95 1)" font-family='"Liberation Sans", Arial, sans-serif' font-weight="700" font-size="18.6" text-anchor="start">0.4</text>
<rect x="64.1" y="969.25" width="10.6" height="3.7" fill="#000"/>
<text transform="translate(37.45 977.72) scale(0.95 1)" font-family='"Liberation Sans", Arial, sans-serif' font-weight="700" font-size="18.6" text-anchor="start">0.2</text>
<rect x="64.1" y="1042.65" width="10.6" height="3.7" fill="#000"/>
<text transform="translate(37.45 1051.12) scale(0.95 1)" font-family='"Liberation Sans", Arial, sans-serif' font-weight="700" font-size="18.6" text-anchor="start">0.0</text>
<rect x="64.1" y="1116.05" width="10.6" height="3.7" fill="#000"/>
<text transform="translate(31.61 1124.52) scale(0.95 1)" font-family='"Liberation Sans", Arial, sans-serif' font-weight="700" font-size="18.6" text-anchor="start">-0.2</text>
<rect x="64.1" y="1116.05" width="370.6" height="3.7" fill="#000"/>
<rect x="144.95" y="1117.9" width="3.5" height="11.5" fill="#000"/>
<rect x="251.55" y="1117.9" width="3.5" height="11.5" fill="#000"/>
<rect x="359.15" y="1117.9" width="3.5" height="11.5" fill="#000"/>
<text transform="translate(145.7 1150) scale(0.97 1)" font-family='"Liberation Sans", Arial, sans-serif' font-weight="700" font-size="19.7" text-anchor="middle">mir499a-5p</text>
<text transform="translate(253.4 1150) scale(0.97 1)" font-family='"Liberation Sans", Arial, sans-serif' font-weight="700" font-size="19.7" text-anchor="middle">mir499a-3p</text>
<text transform="translate(358.4 1150) scale(0.97 1)" font-family='"Liberation Sans", Arial, sans-serif' font-weight="700" font-size="19.7" text-anchor="middle">Control</text>
<ellipse cx="146.7" cy="878.1" rx="5.85" ry="6.6"/>
<ellipse cx="146.7" cy="943.7" rx="5.85" ry="6.6"/>
<ellipse cx="123" cy="1037.2" rx="5.85" ry="6.6"/>
<ellipse cx="146.7" cy="1037.8" rx="5.85" ry="6.6"/>
<ellipse cx="170" cy="1040.5" rx="5.85" ry="6.6"/>
<rect x="219.7" y="1018.7" width="12" height="13.2"/>
<rect x="234.5" y="1022.9" width="12" height="13.2"/>
<rect x="248.3" y="1026.9" width="12" height="13.2"/>
<rect x="263" y="1031" width="12" height="13.2"/>
<rect x="277.8" y="1033.8" width="12" height="13.2"/>
<path d="M361.9 998.8L367.9 1012L355.9 1012Z"/>
<path d="M353.7 1028.9L359.7 1042.1L347.7 1042.1Z"/>
<path d="M369.8 1029.6L375.8 1042.8L363.8 1042.8Z"/>
<text transform="translate(20.8 1137.47) rotate(-90) scale(1 1.01)" font-family='"Liberation Sans", Arial, sans-serif' font-weight="700" font-size="24.11">miR-150-5p Expression Level</text>
<clipPath id="clipi"><rect x="430" y="808" width="60" height="50"/></clipPath>
<g clip-path="url(#clipi)">
<text transform="translate(447.61 841.8) scale(1 1)" font-family='"Liberation Serif", "Times New Roman", serif' font-weight="700" font-size="64.78">i</text>
</g>
</g>
<g>
<rect x="628.3" y="1019.2" width="70" height="36.3" fill="#fff"/>
<rect x="626.72" y="1017.35" width="3.15" height="38.15" fill="#000"/>
<rect x="696.72" y="1017.35" width="3.15" height="38.15" fill="#000"/>
<rect x="626.72" y="1017.35" width="73.15" height="3.7" fill="#000"/>
<rect x="738.9" y="1055.5" width="70" height="0" fill="#fff"/>
<rect x="737.32" y="1053.65" width="3.15" height="1.85" fill="#000"/>
<rect x="807.32" y="1053.65" width="3.15" height="1.85" fill="#000"/>
<rect x="737.32" y="1053.65" width="73.15" height="3.7" fill="#000"/>
<rect x="846.8" y="1055.5" width="74" height="2.9" fill="#fff"/>
<rect x="845.22" y="1053.65" width="3.15" height="4.75" fill="#000"/>
<rect x="919.22" y="1053.65" width="3.15" height="4.75" fill="#000"/>
<rect x="845.22" y="1056.55" width="77.15" height="3.7" fill="#000"/>
<rect x="662.2" y="942.8" width="2.2" height="150.9" fill="#585858"/>
<rect x="645.3" y="941.65" width="36" height="2.3" fill="#585858"/>
<rect x="645.3" y="1092.55" width="36" height="2.3" fill="#585858"/>
<rect x="580.1" y="1053.65" width="378.9" height="3.7" fill="#000"/>
<rect x="588.15" y="820.21" width="3.5" height="295.5" fill="#000"/>
<rect x="580.1" y="820.21" width="9.8" height="3.7" fill="#000"/>
<text transform="translate(551.47 829.14) scale(0.81 1)" font-family='"Liberation Serif", "Times New Roman", serif' font-weight="700" font-size="21" text-anchor="start">400</text>
<rect x="580.1" y="878.57" width="9.8" height="3.7" fill="#000"/>
<text transform="translate(551.47 887.5) scale(0.81 1)" font-family='"Liberation Serif", "Times New Roman", serif' font-weight="700" font-size="21" text-anchor="start">300</text>
<rect x="580.1" y="936.93" width="9.8" height="3.7" fill="#000"/>
<text transform="translate(551.47 945.86) scale(0.81 1)" font-family='"Liberation Serif", "Times New Roman", serif' font-weight="700" font-size="21" text-anchor="start">200</text>
<rect x="580.1" y="995.29" width="9.8" height="3.7" fill="#000"/>
<text transform="translate(551.47 1004.22) scale(0.81 1)" font-family='"Liberation Serif", "Times New Roman", serif' font-weight="700" font-size="21" text-anchor="start">100</text>
<rect x="580.1" y="1053.65" width="9.8" height="3.7" fill="#000"/>
<text transform="translate(568.48 1062.58) scale(0.81 1)" font-family='"Liberation Serif", "Times New Roman", serif' font-weight="700" font-size="21" text-anchor="start">0</text>
<rect x="580.1" y="1112.01" width="9.8" height="3.7" fill="#000"/>
<text transform="translate(545.77 1120.94) scale(0.81 1)" font-family='"Liberation Serif", "Times New Roman", serif' font-weight="700" font-size="21" text-anchor="start">-100</text>
<rect x="580.1" y="1112.01" width="379.2" height="3.7" fill="#000"/>
<rect x="661.55" y="1113.86" width="3.5" height="11.5" fill="#000"/>
<rect x="772.15" y="1113.86" width="3.5" height="11.5" fill="#000"/>
<rect x="882.05" y="1113.86" width="3.5" height="11.5" fill="#000"/>
<text transform="translate(662.9 1148.3) scale(0.92 1)" font-family='"Liberation Serif", "Times New Roman", serif' font-weight="700" font-size="20.3" text-anchor="middle">mir499a-5p</text>
<text transform="translate(773.3 1148.3) scale(0.92 1)" font-family='"Liberation Serif", "Times New Roman", serif' font-weight="700" font-size="20.3" text-anchor="middle">mir499a-3p</text>
<text transform="translate(881.7 1148.3) scale(0.92 1)" font-family='"Liberation Serif", "Times New Roman", serif' font-weight="700" font-size="20.3" text-anchor="middle">Control</text>
<ellipse cx="663.3" cy="883.7" rx="5.85" ry="6.6"/>
<ellipse cx="636" cy="1039.9" rx="5.85" ry="6.6"/>
<ellipse cx="654.1" cy="1056.3" rx="5.85" ry="6.6"/>
<ellipse cx="672.8" cy="1056.3" rx="5.85" ry="6.6"/>
<ellipse cx="690.9" cy="1056.3" rx="5.85" ry="6.6"/>
<rect x="738.3" y="1049.7" width="12" height="13.2"/>
<rect x="753.1" y="1049.7" width="12" height="13.2"/>
<rect x="767.9" y="1049.7" width="12" height="13.2"/>
<rect x="782.7" y="1049.7" width="12" height="13.2"/>
<rect x="797.4" y="1049.7" width="12" height="13.2"/>
<path d="M859.2 1049.7L865.2 1062.9L853.2 1062.9Z"/>
<path d="M883.8 1049.7L889.8 1062.9L877.8 1062.9Z"/>
<path d="M908.4 1049.7L914.4 1062.9L902.4 1062.9Z"/>
<text transform="translate(533.1 1128.64) rotate(-90) scale(1 0.82)" font-family='"Liberation Serif", "Times New Roman", serif' font-weight="700" font-size="25.51">miR-361-5p Expression Level</text>
<text transform="translate(971.93 842.85) scale(1.01 1)" font-family='"Liberation Serif", "Times New Roman", serif' font-weight="700" font-size="62.09">j</text>
</g>
<g>
<rect x="1139.3" y="982.1" width="68" height="62.3" fill="#fff"/>
<rect x="1137.72" y="980.25" width="3.15" height="64.15" fill="#000"/>
<rect x="1205.72" y="980.25" width="3.15" height="64.15" fill="#000"/>
<rect x="1137.72" y="980.25" width="71.15" height="3.7" fill="#000"/>
<rect x="1245" y="1038.9" width="68" height="5.5" fill="#fff"/>
<rect x="1243.42" y="1037.05" width="3.15" height="7.35" fill="#000"/>
<rect x="1311.42" y="1037.05" width="3.15" height="7.35" fill="#000"/>
<rect x="1243.42" y="1037.05" width="71.15" height="3.7" fill="#000"/>
<rect x="1349.5" y="998.5" width="69" height="45.9" fill="#fff"/>
<rect x="1347.92" y="996.65" width="3.15" height="47.75" fill="#000"/>
<rect x="1416.92" y="996.65" width="3.15" height="47.75" fill="#000"/>
<rect x="1347.92" y="996.65" width="72.15" height="3.7" fill="#000"/>
<rect x="1172.2" y="899.4" width="2.2" height="164.1" fill="#585858"/>
<rect x="1155.8" y="898.25" width="35" height="2.3" fill="#585858"/>
<rect x="1155.8" y="1062.35" width="35" height="2.3" fill="#585858"/>
<rect x="1277.9" y="1030.7" width="2.2" height="11.3" fill="#585858"/>
<rect x="1262" y="1029.55" width="34" height="2.3" fill="#585858"/>
<rect x="1262" y="1040.85" width="34" height="2.3" fill="#585858"/>
<rect x="1382.9" y="954.6" width="2.2" height="85" fill="#585858"/>
<rect x="1367" y="953.45" width="34" height="2.3" fill="#585858"/>
<rect x="1367" y="1038.45" width="34" height="2.3" fill="#585858"/>
<rect x="1093.3" y="1042.55" width="361.7" height="3.7" fill="#000"/>
<rect x="1101.75" y="822.89" width="3.5" height="296.58" fill="#000"/>
<rect x="1093.3" y="822.89" width="10.2" height="3.7" fill="#000"/>
<text transform="translate(1066.75 831.53) scale(0.91 1)" font-family='"Liberation Sans", Arial, sans-serif' font-weight="700" font-size="19.1" text-anchor="start">0.6</text>
<rect x="1093.3" y="896.11" width="10.2" height="3.7" fill="#000"/>
<text transform="translate(1066.23 904.75) scale(0.91 1)" font-family='"Liberation Sans", Arial, sans-serif' font-weight="700" font-size="19.1" text-anchor="start">0.4</text>
<rect x="1093.3" y="969.33" width="10.2" height="3.7" fill="#000"/>
<text transform="translate(1066.84 977.97) scale(0.91 1)" font-family='"Liberation Sans", Arial, sans-serif' font-weight="700" font-size="19.1" text-anchor="start">0.2</text>
<rect x="1093.3" y="1042.55" width="10.2" height="3.7" fill="#000"/>
<text transform="translate(1066.84 1051.19) scale(0.91 1)" font-family='"Liberation Sans", Arial, sans-serif' font-weight="700" font-size="19.1" text-anchor="start">0.0</text>
<rect x="1093.3" y="1115.77" width="10.2" height="3.7" fill="#000"/>
<text transform="translate(1061.1 1124.41) scale(0.91 1)" font-family='"Liberation Sans", Arial, sans-serif' font-weight="700" font-size="19.1" text-anchor="start">-0.2</text>
<rect x="1093.3" y="1115.77" width="362.2" height="3.7" fill="#000"/>
<rect x="1171.55" y="1117.62" width="3.5" height="11.5" fill="#000"/>
<rect x="1277.25" y="1117.62" width="3.5" height="11.5" fill="#000"/>
<rect x="1381.55" y="1117.62" width="3.5" height="11.5" fill="#000"/>
<text transform="translate(1172.8 1149.6) scale(0.94 1)" font-family='"Liberation Sans", Arial, sans-serif' font-weight="700" font-size="19.9" text-anchor="middle">mir499a-5p</text>
<text transform="translate(1278.4 1149.6) scale(0.94 1)" font-family='"Liberation Sans", Arial, sans-serif' font-weight="700" font-size="19.9" text-anchor="middle">mir499a-3p</text>
<text transform="translate(1380.8 1149.6) scale(0.94 1)" font-family='"Liberation Sans", Arial, sans-serif' font-weight="700" font-size="19.9" text-anchor="middle">Control</text>
<ellipse cx="1173.3" cy="868.3" rx="5.85" ry="6.6"/>
<ellipse cx="1173.3" cy="918.5" rx="5.85" ry="6.6"/>
<ellipse cx="1150.3" cy="1036.3" rx="5.85" ry="6.6"/>
<ellipse cx="1173.3" cy="1040.5" rx="5.85" ry="6.6"/>
<ellipse cx="1196.9" cy="1041.5" rx="5.85" ry="6.6"/>
<rect x="1245.1" y="1019.2" width="12" height="13.2"/>
<rect x="1258.2" y="1029.7" width="12" height="13.2"/>
<rect x="1273" y="1033.9" width="12" height="13.2"/>
<rect x="1287.1" y="1035.6" width="12" height="13.2"/>
<rect x="1300.9" y="1036.3" width="12" height="13.2"/>
<path d="M1384.6 942.1L1390.6 955.3L1378.6 955.3Z"/>
<path d="M1377.4 1007L1383.4 1020.2L1371.4 1020.2Z"/>
<path d="M1391.2 1022.5L1397.2 1035.7L1385.2 1035.7Z"/>
<text transform="translate(1050.6 1137.47) rotate(-90) scale(1 0.91)" font-family='"Liberation Sans", Arial, sans-serif' font-weight="700" font-size="24.11">miR-361-3p Expression Level</text>
<text transform="translate(1461.15 838.7) scale(1.01 1)" font-family='"Liberation Serif", "Times New Roman", serif' font-weight="700" font-size="61.44">k</text>
</g>
</svg>
</body></html>
